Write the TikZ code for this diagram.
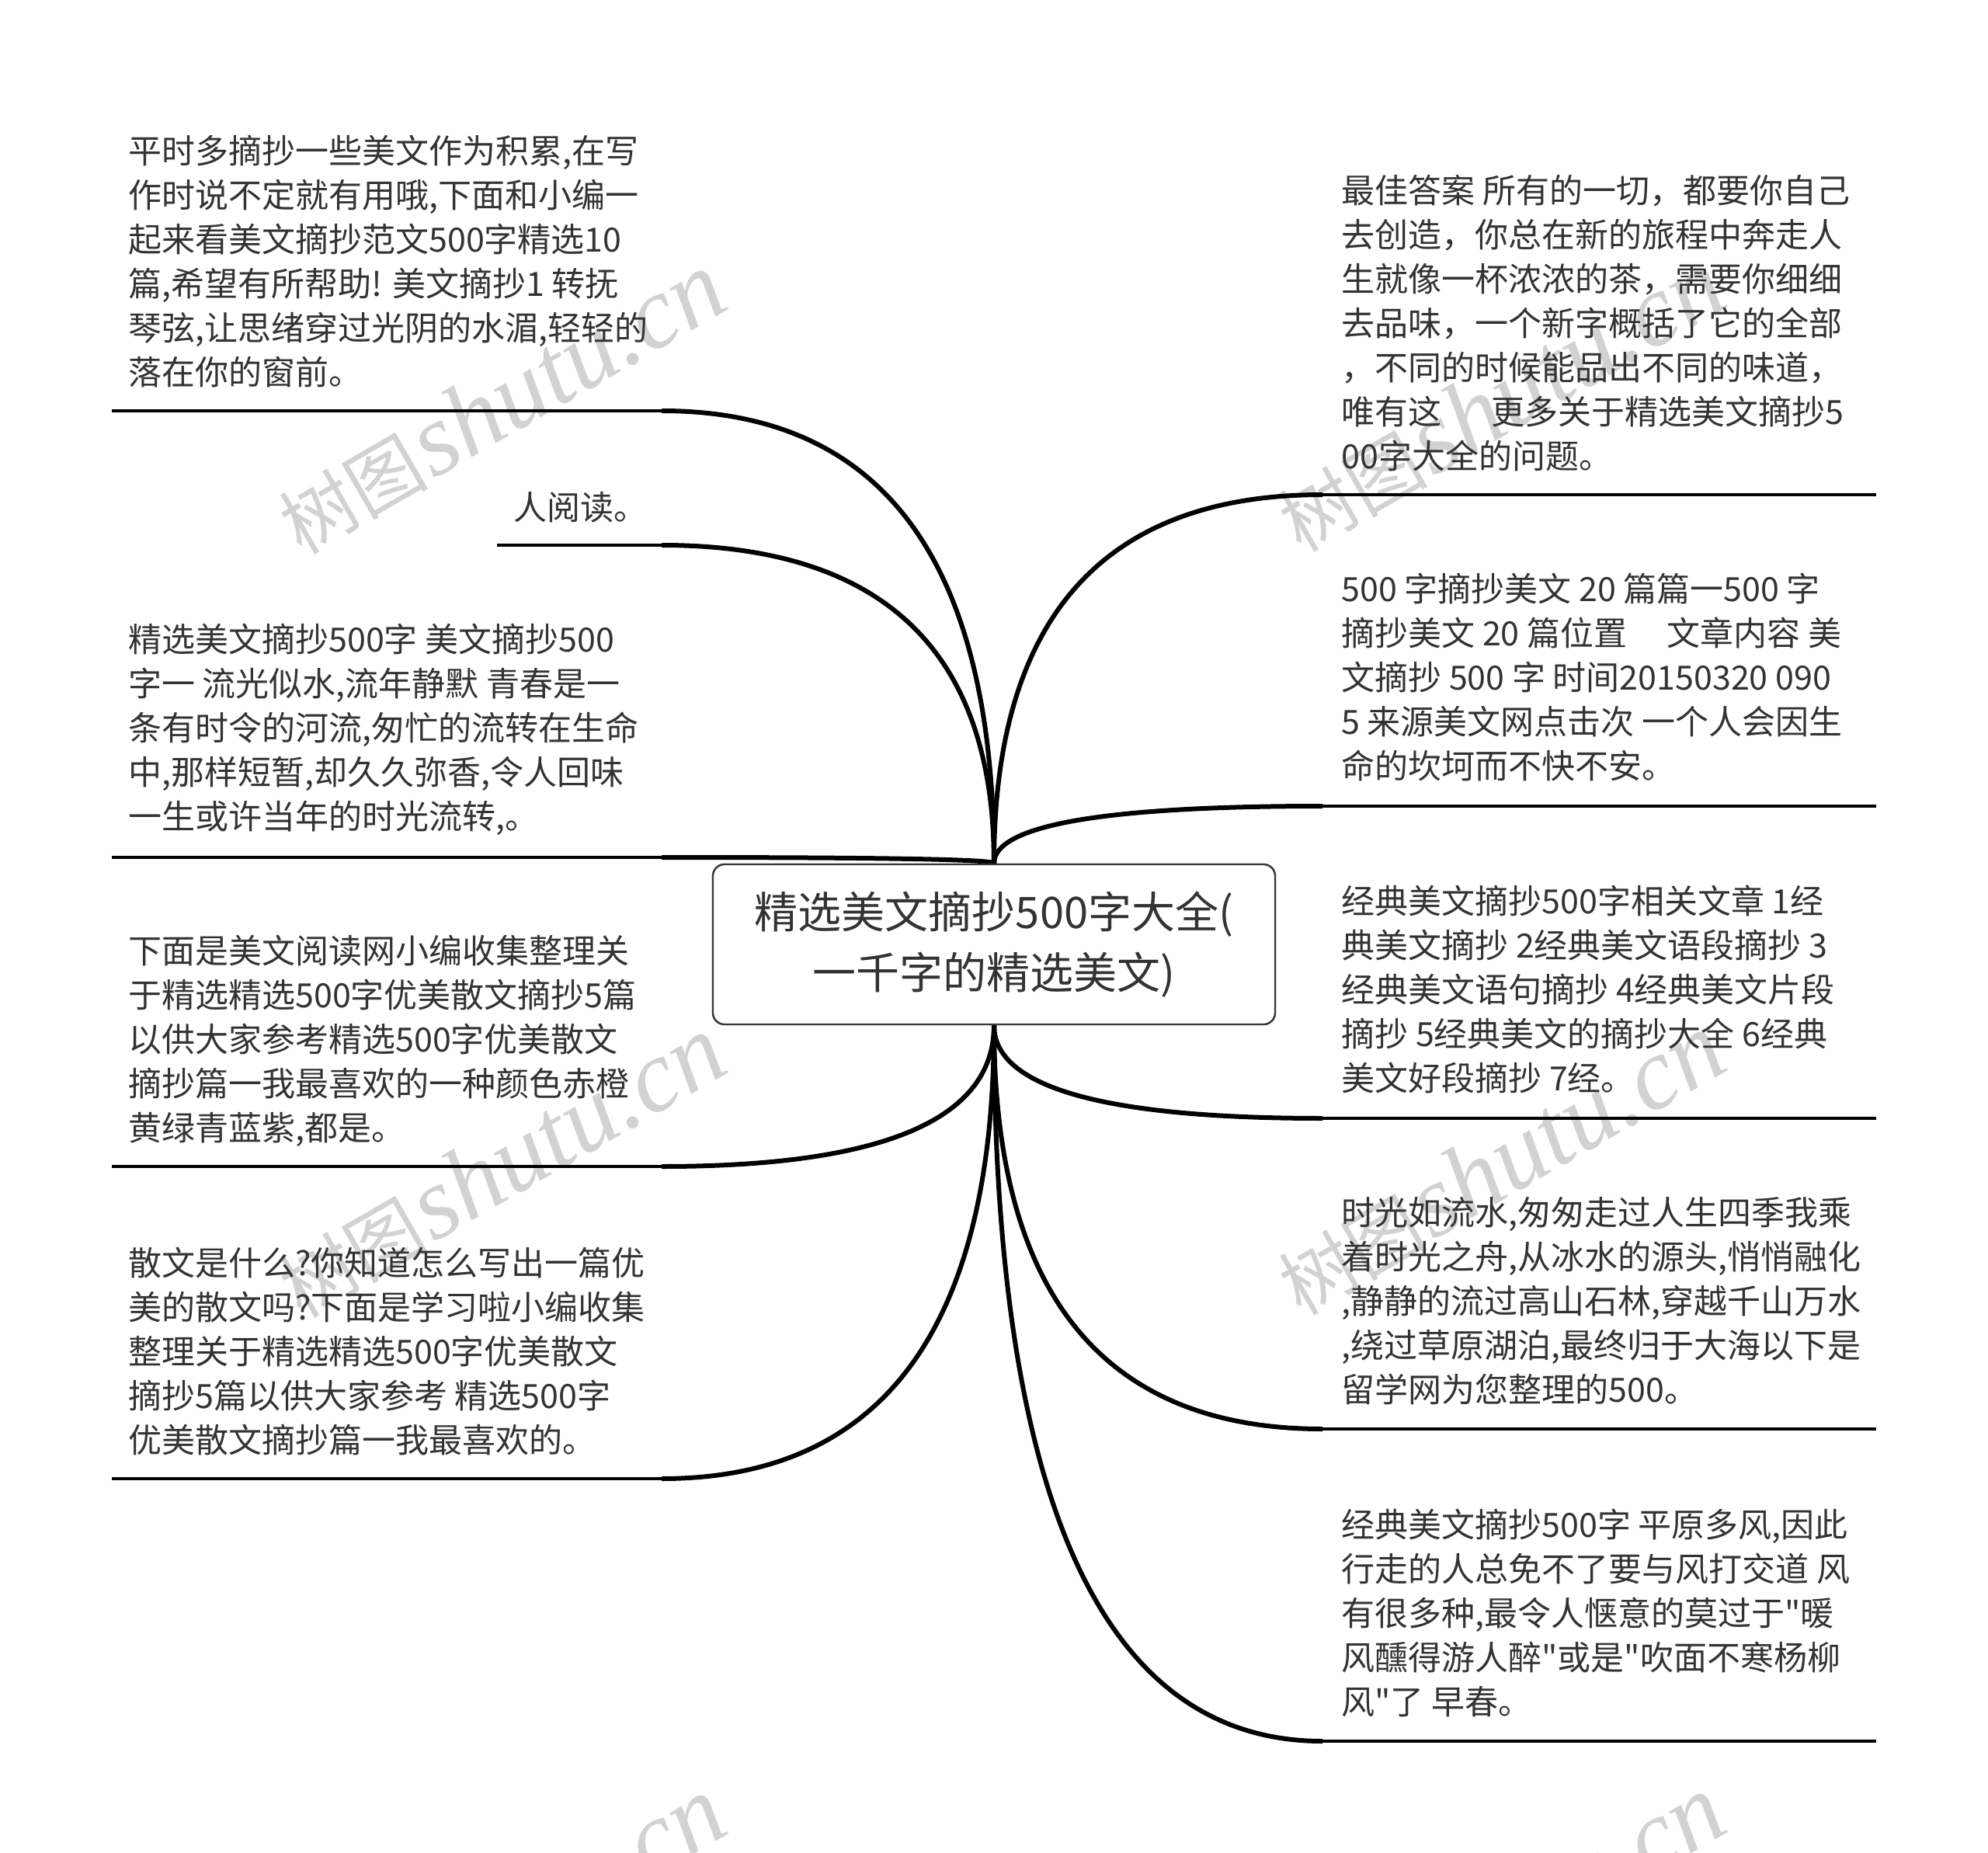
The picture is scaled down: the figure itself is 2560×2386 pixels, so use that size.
\documentclass[tikz,border=0pt]{standalone}
\usepackage{fontspec}
\setmainfont{Noto Sans CJK SC}[Ligatures=TeXOff]
\newfontfamily\wmlatin{Liberation Serif}
\usetikzlibrary{calc}
\definecolor{txtgray}{HTML}{333333}
\definecolor{boxgray}{HTML}{3A3A3A}
\definecolor{wmgray}{HTML}{D2D2D2}
\tikzset{
  leaf/.style={anchor=north west, align=left, inner sep=0pt, text=txtgray,
    font=\fontsize{21.5}{28.5}\selectfont},
  rootbox/.style={draw=boxgray, line width=1.2pt, rounded corners=7.5pt, fill=white,
    minimum width=362pt, minimum height=103pt, align=center, text=txtgray,
    font=\fontsize{28}{39}\selectfont},
  branch/.style={line width=3pt, black},
  underline/.style={line width=1.7pt, black},
  wmark/.style={text=wmgray, rotate=30, inner sep=0pt}
}
\newcommand{\wmtext}{{\fontsize{48}{48}\selectfont 树图} {\wmlatin\itshape\fontsize{66}{66}\selectfont shutu.cn}}
% quadratic-like bend from an anchor of the root to a line end
\newcommand{\bend}[2]{\draw[branch] (#1) .. controls ($(#1)!2/3!(#1 |- #2)$) and ($(#2)!2/3!(#1 |- #2)$) .. (#2);}
\begin{document}
\begin{tikzpicture}[x=0.5pt,y=-0.5pt]
\useasboundingbox (0,0) rectangle (2560,2386);
\fill[white] (0,0) rectangle (2560,2386);

% Watermarks
\begin{scope}
\clip (0,0) rectangle (2560,2386);
\node[wmark] (wm1) at (645,519) {\wmtext};
\node[wmark] (wm2) at (1932,516) {\wmtext};
\node[wmark] (wm3) at (645,1502) {\wmtext};
\node[wmark] (wm4) at (1932,1499) {\wmtext};
\node[wmark] (wm5) at (645,2482) {\wmtext};
\node[wmark] (wm6) at (1932,2480) {\wmtext};
\end{scope}

% Root
\node[rootbox] (root) at (1280,1216) {精选美文摘抄500字大全(\\一千字的精选美文)};

% Line ends on the left
\coordinate (l1s) at (144,529);  \coordinate (l1e) at (852,529);
\coordinate (l2s) at (640,702);  \coordinate (l2e) at (852,702);
\coordinate (l3s) at (144,1104); \coordinate (l3e) at (852,1104);
\coordinate (l4s) at (144,1502); \coordinate (l4e) at (852,1502);
\coordinate (l5s) at (144,1904); \coordinate (l5e) at (852,1904);

% Line ends on the right
\coordinate (r1s) at (1703,637);  \coordinate (r1e) at (2416,637);
\coordinate (r2s) at (1703,1038); \coordinate (r2e) at (2416,1038);
\coordinate (r3s) at (1703,1440); \coordinate (r3e) at (2416,1440);
\coordinate (r4s) at (1703,1840); \coordinate (r4e) at (2416,1840);
\coordinate (r5s) at (1703,2242); \coordinate (r5e) at (2416,2242);

% Left texts
\node[leaf] (l1) at (165,174) {平时多摘抄一些美文作为积累,在写\\作时说不定就有用哦,下面和小编一\\起来看美文摘抄范文500字精选10\\篇,希望有所帮助! 美文摘抄1 转抚\\琴弦,让思绪穿过光阴的水湄,轻轻的\\落在你的窗前。};
\node[leaf] (l2) at (661,633) {人阅读。};
\node[leaf] (l3) at (165,803) {精选美文摘抄500字 美文摘抄500\\字一 流光似水,流年静默 青春是一\\条有时令的河流,匆忙的流转在生命\\中,那样短暂,却久久弥香,令人回味\\一生或许当年的时光流转,。};
\node[leaf] (l4) at (165,1204) {下面是美文阅读网小编收集整理关\\于精选精选500字优美散文摘抄5篇\\以供大家参考精选500字优美散文\\摘抄篇一我最喜欢的一种颜色赤橙\\黄绿青蓝紫,都是。};
\node[leaf] (l5) at (165,1606) {散文是什么?你知道怎么写出一篇优\\美的散文吗?下面是学习啦小编收集\\整理关于精选精选500字优美散文\\摘抄5篇以供大家参考 精选500字\\优美散文摘抄篇一我最喜欢的。};

% Right texts
\node[leaf] (r1) at (1727,225) {最佳答案 所有的一切，都要你自己\\去创造，你总在新的旅程中奔走人\\生就像一杯浓浓的茶，需要你细细\\去品味，一个新字概括了它的全部\\，不同的时候能品出不同的味道，\\唯有这\hspace{1.5em}更多关于精选美文摘抄5\\00字大全的问题。};
\node[leaf] (r2) at (1727,738) {500 字摘抄美文 20 篇篇一500 字\\摘抄美文 20 篇位置\hspace{1.2em}文章内容 美\\文摘抄 500 字 时间20150320 090\\5 来源美文网点击次 一个人会因生\\命的坎坷而不快不安。};
\node[leaf] (r3) at (1727,1139) {经典美文摘抄500字相关文章 1经\\典美文摘抄 2经典美文语段摘抄 3\\经典美文语句摘抄 4经典美文片段\\摘抄 5经典美文的摘抄大全 6经典\\美文好段摘抄 7经。};
\node[leaf] (r4) at (1727,1541) {时光如流水,匆匆走过人生四季我乘\\着时光之舟,从冰水的源头,悄悄融化\\,静静的流过高山石林,穿越千山万水\\,绕过草原湖泊,最终归于大海以下是\\留学网为您整理的500。};
\node[leaf] (r5) at (1727,1943) {经典美文摘抄500字 平原多风,因此\\行走的人总免不了要与风打交道 风\\有很多种,最令人惬意的莫过于"暖\\风醺得游人醉"或是"吹面不寒杨柳\\风"了 早春。};

% Underlines
\foreach \s in {l1,l2,l3,l4,l5,r1,r2,r3,r4,r5}
  \draw[underline] (\s s) -- (\s e);

% Branches from the root
\foreach \e in {l1e,l2e,l3e,r1s,r2s}{\bend{root.north}{\e}}
\foreach \e in {l4e,l5e,r3s,r4s,r5s}{\bend{root.south}{\e}}

% Root on top
\node[rootbox] (rootfront) at (root) {精选美文摘抄500字大全(\\一千字的精选美文)};
\end{tikzpicture}
\end{document}
